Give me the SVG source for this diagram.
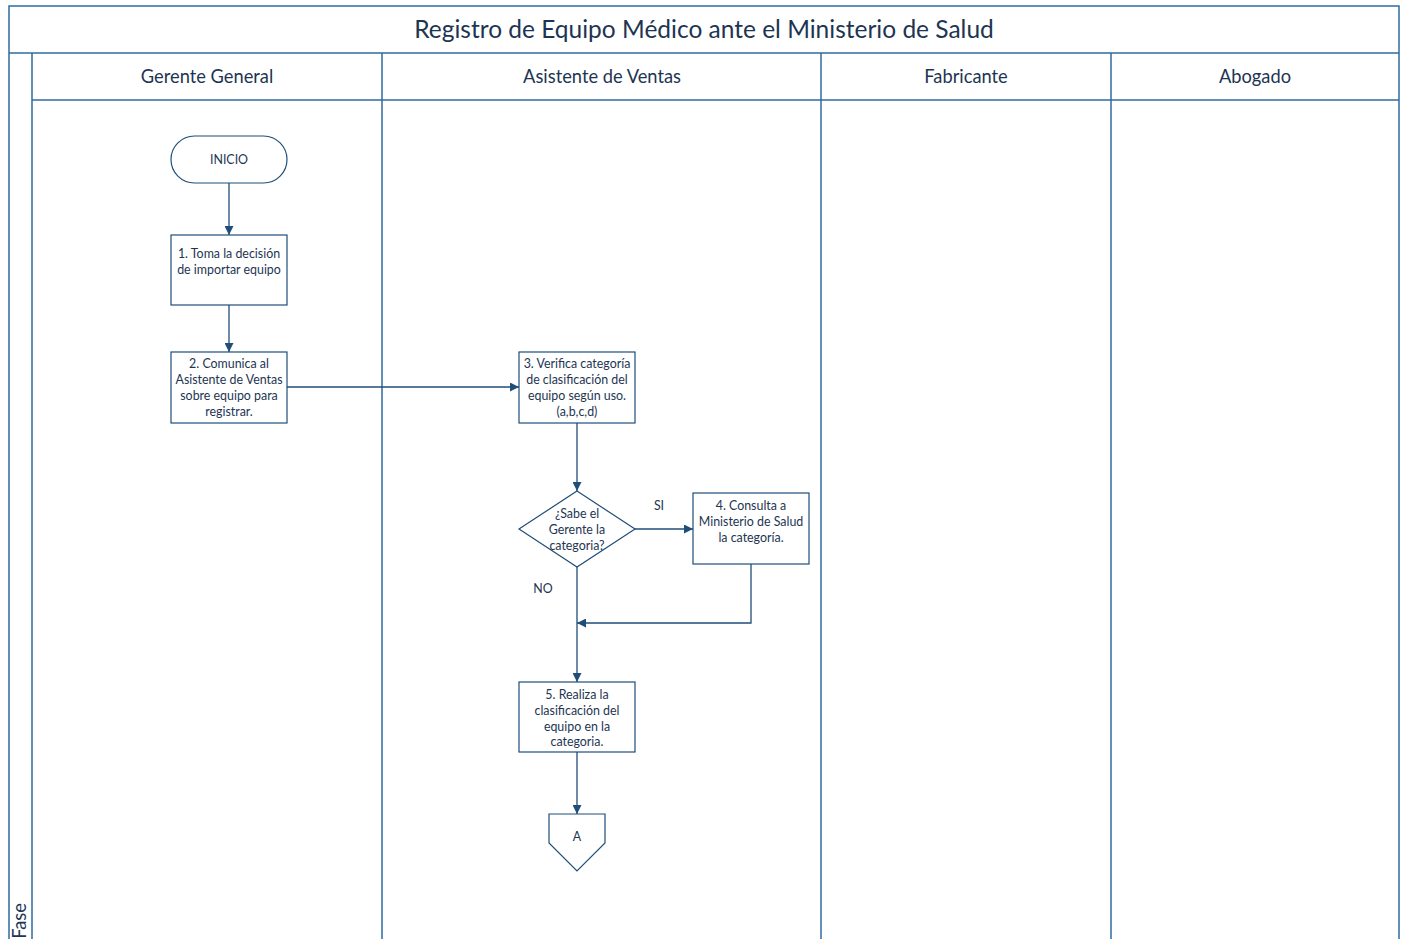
<svg xmlns="http://www.w3.org/2000/svg" width="1410" height="939" viewBox="0 0 1410 939">
  <style>
    .lane { fill: none; stroke: #2f6b9e; stroke-width: 1.5; }
    .shape { fill: #ffffff; stroke: #1f4e79; stroke-width: 1.2; }
    .flow { fill: none; stroke: #1f4e79; stroke-width: 1.3; marker-end: url(#arrow); }
    .t { font-family: Lato, "Liberation Sans", sans-serif; fill: #1d3552; text-anchor: middle; }
    .title { font-size: 24.5px; }
    .head { font-size: 18.3px; }
    .node { font-size: 12.4px; }
  </style>
  <defs>
    <marker id="arrow" viewBox="0 0 10 10" refX="10" refY="5" markerWidth="9" markerHeight="9" markerUnits="userSpaceOnUse" orient="auto">
      <path d="M0,0 L10,5 L0,10 z" fill="#1f4e79"/>
    </marker>
  </defs>
  <rect width="1410" height="939" fill="#ffffff"/>

  <!-- pool frame and lanes -->
  <g id="pool">
    <rect class="lane" x="9" y="6" width="1390" height="940"/>
    <line class="lane" x1="9" y1="53" x2="1399" y2="53"/>
    <line class="lane" x1="32" y1="53" x2="32" y2="939"/>
    <line class="lane" x1="32" y1="100" x2="1399" y2="100"/>
    <line class="lane" x1="382" y1="53" x2="382" y2="939"/>
    <line class="lane" x1="821" y1="53" x2="821" y2="939"/>
    <line class="lane" x1="1111" y1="53" x2="1111" y2="939"/>
    <text class="t title" x="704" y="38">Registro de Equipo Médico ante el Ministerio de Salud</text>
    <text class="t head" x="207" y="83">Gerente General</text>
    <text class="t head" x="602" y="83">Asistente de Ventas</text>
    <text class="t head" x="966" y="83">Fabricante</text>
    <text class="t head" x="1255" y="83">Abogado</text>
    <text class="t head" transform="translate(26,921) rotate(-90)">Fase</text>
  </g>

  <!-- connectors -->
  <g id="connectors">
    <path class="flow" d="M229,183 L229,235"/>
    <path class="flow" d="M229,305 L229,352"/>
    <path class="flow" d="M287,387 L519,387"/>
    <path class="flow" d="M577,423 L577,491"/>
    <path class="flow" d="M635,529 L693,529"/>
    <path class="flow" d="M577,567 L577,682"/>
    <path class="flow" d="M751,564 L751,623 L577,623"/>
    <path class="flow" d="M577,752 L577,814"/>
    <text class="t node" x="659" y="510">SI</text>
    <text class="t node" x="543" y="593">NO</text>
  </g>

  <g id="inicio">
    <rect class="shape" x="171" y="136" width="116" height="47" rx="23.5"/>
    <text class="t node" x="229" y="164">INICIO</text>
  </g>

  <g id="paso1">
    <rect class="shape" x="171" y="235" width="116" height="70"/>
    <text class="t node" x="229" y="258">1. Toma la decisión</text>
    <text class="t node" x="229" y="274">de importar equipo</text>
  </g>

  <g id="paso2">
    <rect class="shape" x="171" y="352" width="116" height="71"/>
    <text class="t node" x="229" y="368">2. Comunica al</text>
    <text class="t node" x="229" y="384">Asistente de Ventas</text>
    <text class="t node" x="229" y="400">sobre equipo para</text>
    <text class="t node" x="229" y="416">registrar.</text>
  </g>

  <g id="paso3">
    <rect class="shape" x="519" y="352" width="116" height="71"/>
    <text class="t node" x="577" y="368">3. Verifica  categoría</text>
    <text class="t node" x="577" y="384">de clasificación del</text>
    <text class="t node" x="577" y="400">equipo según uso.</text>
    <text class="t node" x="577" y="416">(a,b,c,d)</text>
  </g>

  <g id="decision">
    <path class="shape" d="M577,491 L635,529 L577,567 L519,529 Z"/>
    <text class="t node" x="577" y="518">¿Sabe el</text>
    <text class="t node" x="577" y="534">Gerente la</text>
    <text class="t node" x="577" y="550">categoria?</text>
  </g>

  <g id="paso4">
    <rect class="shape" x="693" y="493" width="116" height="71"/>
    <text class="t node" x="751" y="510">4. Consulta a</text>
    <text class="t node" x="751" y="526">Ministerio de Salud</text>
    <text class="t node" x="751" y="542">la categoría.</text>
  </g>

  <g id="paso5">
    <rect class="shape" x="519" y="682" width="116" height="70"/>
    <text class="t node" x="577" y="699">5. Realiza la</text>
    <text class="t node" x="577" y="715">clasificación del</text>
    <text class="t node" x="577" y="731">equipo en la</text>
    <text class="t node" x="577" y="746">categoria.</text>
  </g>

  <g id="conector-a">
    <path class="shape" d="M549,814 L605,814 L605,843 L577,871 L549,843 Z"/>
    <text class="t node" x="577" y="841">A</text>
  </g>
</svg>
